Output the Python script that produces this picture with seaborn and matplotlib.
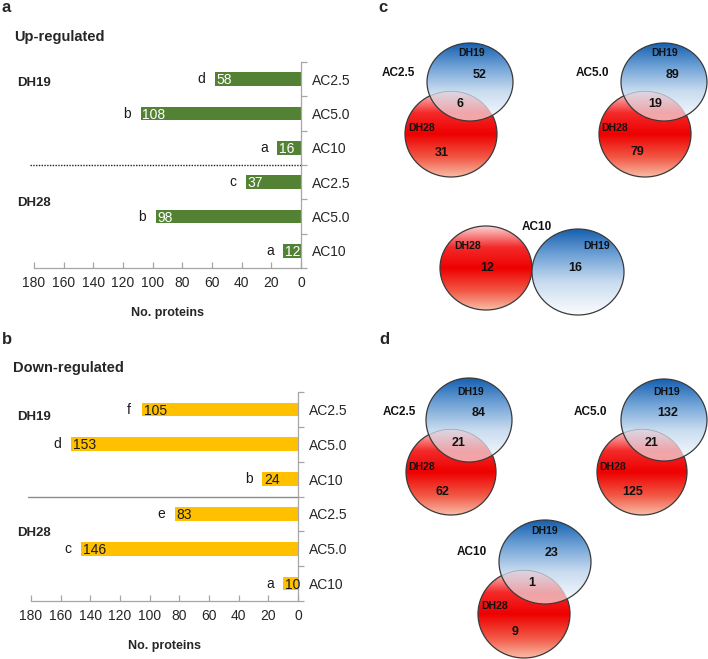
import numpy as np
import pandas as pd
import matplotlib
matplotlib.use('Agg')
import matplotlib.pyplot as plt
from matplotlib import font_manager
from matplotlib.colors import LinearSegmentedColormap
from matplotlib.patches import Ellipse
from matplotlib.transforms import blended_transform_factory
import seaborn as sns

# bar panels (a, b)
genotypes = ['DH19', 'DH19', 'DH19', 'DH28', 'DH28', 'DH28']
conditions = ['AC2.5', 'AC5.0', 'AC10', 'AC2.5', 'AC5.0', 'AC10']
up_counts = [58, 108, 16, 37, 98, 12]
up_letters = ['d', 'b', 'a', 'c', 'b', 'a']
down_counts = [105, 153, 24, 83, 146, 10]
down_letters = ['f', 'd', 'b', 'e', 'c', 'a']
x_ticks = [180, 160, 140, 120, 100, 80, 60, 40, 20, 0]

# venn panels (c, d): DH19 only, shared, DH28 only
venn_conditions = ['AC2.5', 'AC5.0', 'AC10']
up_dh19 = [52, 89, 16]
up_shared = [6, 19, None]      # AC10 circles do not overlap
up_dh28 = [31, 79, 12]
down_dh19 = [84, 132, 23]
down_shared = [21, 21, 1]
down_dh28 = [62, 125, 9]

sns.set_style('white')
installed = {f.name for f in font_manager.fontManager.ttflist}
narrow = 'Liberation Sans Narrow' if 'Liberation Sans Narrow' in installed else 'Liberation Sans'
lab_size = 11 if narrow.endswith('Narrow') else 10
plt.rcParams['font.family'] = ['Liberation Sans', 'DejaVu Sans']

fig = plt.figure(figsize=(7.08, 6.59), dpi=100)
W, H = 708, 659
gray = '#a6a6a6'


def bar_panel(rect, counts, letters, color, val_color, sep_ls, sep_color, sep_x0):
    ax = fig.add_axes(rect)
    df = pd.DataFrame({'row': [g + ' ' + c for g, c in zip(genotypes, conditions)],
                       'count': counts})
    sns.barplot(data=df, x='count', y='row', color=color, saturation=1, width=0.39,
                linewidth=0, orient='h', ax=ax)
    ax.set_xlim(180, 0)
    ax.set_ylim(5.5, -0.5)
    sns.despine(ax=ax, top=True, left=True, right=False, bottom=False)
    for s in ['right', 'bottom']:
        ax.spines[s].set_color(gray)
        ax.spines[s].set_linewidth(0.9)
    ax.yaxis.tick_right()
    ax.set_yticks(range(6))
    ax.set_yticklabels(conditions, family=narrow, fontsize=lab_size)
    ax.set_yticks(np.arange(-0.5, 6, 1), minor=True)
    ax.tick_params(axis='y', which='major', length=0, pad=8)
    ax.tick_params(axis='y', which='minor', right=True, left=False, length=4,
                   direction='out', color=gray, width=0.9)
    ax.set_xticks(x_ticks)
    ax.set_xticklabels([str(t) for t in x_ticks], family=narrow, fontsize=lab_size)
    ax.tick_params(axis='x', direction='in', length=4, color=gray, width=0.9, pad=6,
                   bottom=True)
    ax.set_ylabel('')
    ax.set_xlabel('No. proteins', fontweight='bold', fontsize=9, labelpad=12)
    for i, (v, l) in enumerate(zip(counts, letters)):
        ax.text(v - 1, i + 0.15, str(v), ha='left', va='baseline', color=val_color,
                family=narrow, fontsize=lab_size)
        ax.text(v + 9, i + 0.12, l, ha='center', va='baseline', color='#1a1a1a',
                family=narrow, fontsize=lab_size)
    tr = blended_transform_factory(ax.transAxes, ax.transData)
    ax.plot([sep_x0, 1], [2.5, 2.5], transform=tr, ls=sep_ls, color=sep_color,
            lw=1.0, clip_on=False)
    return ax


bar_panel([34 / W, 1 - 268 / H, 267 / W, 206 / H], up_counts, up_letters,
          '#548235', 'white', (0, (1, 1)), '#202020', -0.015)
bar_panel([31 / W, 1 - 601 / H, 267 / W, 209 / H], down_counts, down_letters,
          '#ffc000', '#1a1a1a', '-', '#8c8c8c', -0.011)

# overlay in pixel coordinates for titles and venn diagrams
ov = fig.add_axes([0, 0, 1, 1])
ov.axis('off')

for txt, x, y in [('a', 2, 7), ('b', 2, 339), ('c', 378, 7), ('d', 379, 339)]:
    ov.text(x, y, txt, ha='left', va='center', fontweight='bold', fontsize=12)
ov.text(14, 37, 'Up-regulated', ha='left', va='center', fontweight='bold', fontsize=10.5)
ov.text(13, 368, 'Down-regulated', ha='left', va='center', fontweight='bold', fontsize=10.5)
for txt, y in [('DH19', 83), ('DH28', 203), ('DH19', 417), ('DH28', 533)]:
    ov.text(17, y, txt, ha='left', va='center', fontweight='bold', fontsize=9.5)

blue_cmap = LinearSegmentedColormap.from_list(
    'vblue', [(0, '#1760b0'), (0.3, '#6fa2d6'), (0.62, '#c9dcef'), (1, '#fbfdff')])
red_cmap = LinearSegmentedColormap.from_list(
    'vred', [(0, '#fbd2d2'), (0.25, '#f42a2a'), (0.5, '#ee0000'), (0.78, '#f25a48'),
             (1, '#f8bca6')])


def venn_fill(c, cmap, under=None, z=1):
    cx, cy, rx, ry = c
    n = 400
    xs = np.linspace(cx - rx, cx + rx, n)
    ys = np.linspace(cy - ry, cy + ry, n)
    gx, gy = np.meshgrid(xs, ys)
    rgba = np.repeat(cmap(np.linspace(0, 1, n))[:, None, :], n, axis=1)
    if under is not None:
        ux, uy, urx, ury = under
        inside = ((gx - ux) / urx) ** 2 + ((gy - uy) / ury) ** 2 <= 1
        rgba[..., 3] = np.where(inside, 0.62, 1.0)
    shape = Ellipse((cx, cy), 2 * rx, 2 * ry, facecolor='none', edgecolor='#3a3a3a',
                    lw=0.9, zorder=z + 0.5)
    ov.add_patch(shape)
    im = ov.imshow(rgba, extent=(cx - rx, cx + rx, cy + ry, cy - ry), aspect='auto',
                   interpolation='bilinear', zorder=z)
    im.set_clip_path(shape)


# layout per venn: blue ellipse, red ellipse, text spots
venn_layout = {
    'c': [dict(blue=(470, 82, 43, 39), red=(451, 134, 46, 43), dh19=(472, 53), n19=(480, 75),
               shared=(460, 104), dh28=(422, 128), n28=(442, 153), label=(398, 73)),
          dict(blue=(664, 82, 43, 39), red=(645, 134, 46, 43), dh19=(665, 53), n19=(673, 75),
               shared=(655, 104), dh28=(615, 128), n28=(637, 152), label=(592, 73)),
          dict(blue=(578, 272, 46, 43), red=(486, 268, 46, 42), dh19=(597, 246), n19=(575, 268),
               shared=None, dh28=(468, 246), n28=(487, 268), label=(537, 227))],
    'd': [dict(blue=(469, 420, 43, 42), red=(451, 472, 45, 43), dh19=(471, 392), n19=(479, 413),
               shared=(459, 443), dh28=(422, 467), n28=(442, 492), label=(399, 412)),
          dict(blue=(664, 420, 43, 41), red=(642, 472, 45, 43), dh19=(667, 392), n19=(668, 413),
               shared=(652, 443), dh28=(613, 467), n28=(633, 492), label=(590, 412)),
          dict(blue=(545, 562, 46, 42), red=(524, 614, 46, 44), dh19=(545, 531), n19=(552, 553),
               shared=(532, 583), dh28=(495, 606), n28=(515, 632), label=(472, 552))],
}

for panel, n19s, nsh, n28s in [('c', up_dh19, up_shared, up_dh28),
                               ('d', down_dh19, down_shared, down_dh28)]:
    for k, cond in enumerate(venn_conditions):
        lay = venn_layout[panel][k]
        venn_fill(lay['red'], red_cmap, z=1)
        venn_fill(lay['blue'], blue_cmap, under=lay['red'] if nsh[k] is not None else None, z=2)
        tk = dict(ha='center', va='center', fontweight='bold', color='#111111', zorder=5)
        ov.text(*lay['dh19'], 'DH19', fontsize=7.5, **tk)
        ov.text(*lay['dh28'], 'DH28', fontsize=7.5, **tk)
        ov.text(*lay['n19'], str(n19s[k]), fontsize=9, **tk)
        ov.text(*lay['n28'], str(n28s[k]), fontsize=9, **tk)
        if nsh[k] is not None:
            ov.text(*lay['shared'], str(nsh[k]), fontsize=9, **tk)
        ov.text(*lay['label'], cond, fontsize=8.5, **tk)

ov.set_xlim(0, W)
ov.set_ylim(H, 0)

fig.savefig('out.png', dpi=100)
